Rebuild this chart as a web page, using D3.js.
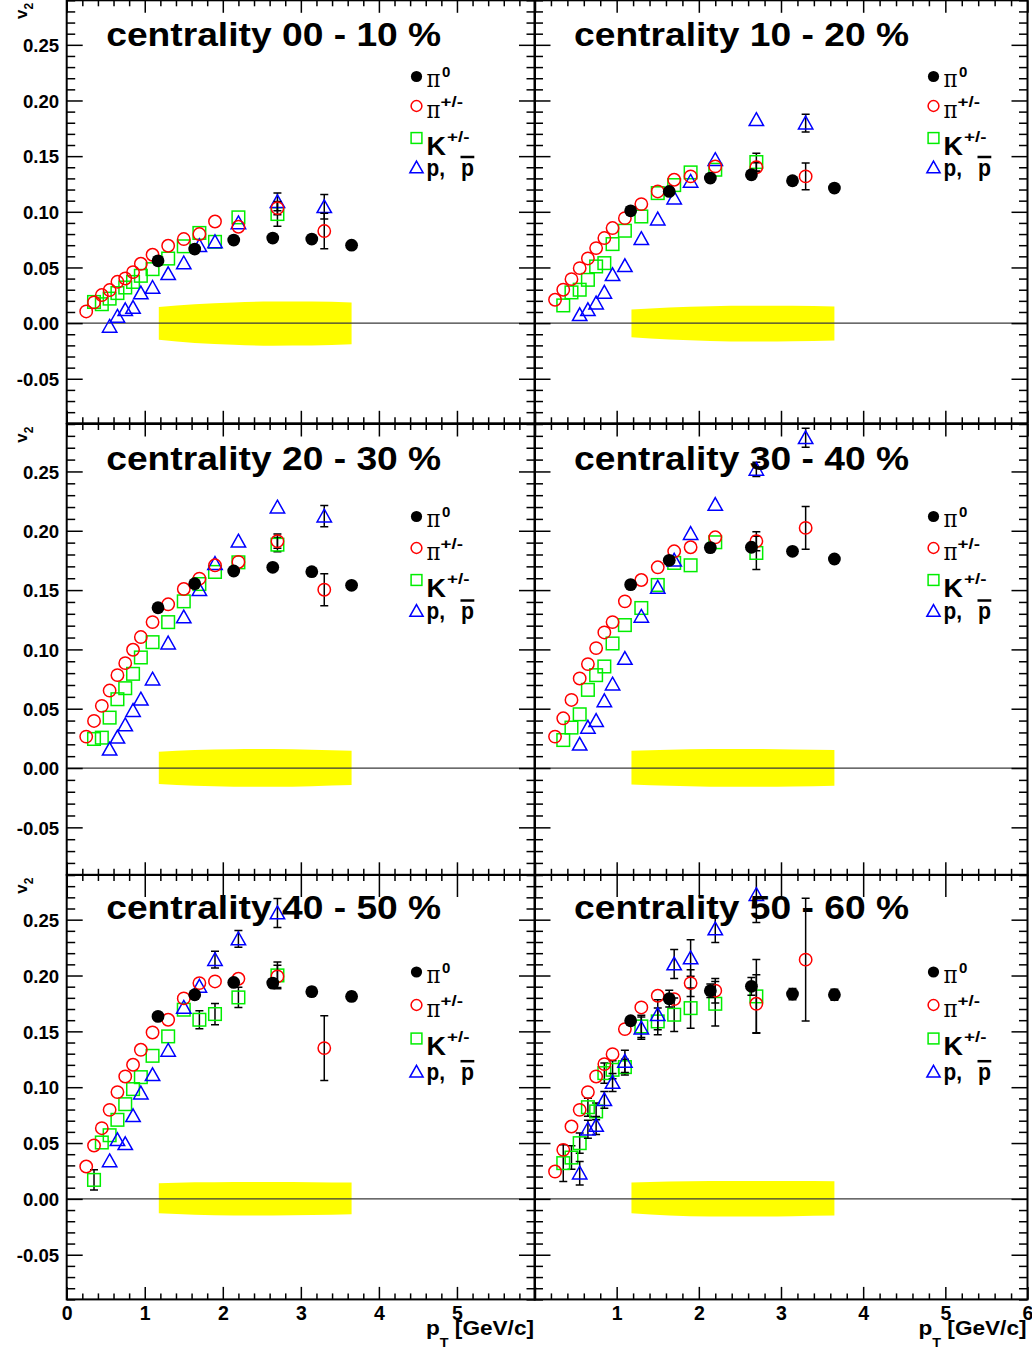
<!DOCTYPE html>
<html>
<head>
<meta charset="utf-8">
<script src="https://cdn.jsdelivr.net/npm/d3@7"></script>
<style>
html,body{margin:0;padding:0;background:#fff;}
svg{display:block;}
text{font-family:"Liberation Sans",Arial,Helvetica,sans-serif;font-weight:bold;fill:#000;}
</style>
</head>
<body>
<svg id="chart" width="1032" height="1351"></svg>
<script>
// ---------------- data ----------------
const centralities = ["00 - 10", "10 - 20", "20 - 30", "30 - 40", "40 - 50", "50 - 60"];
const ptPi0  = [1.17, 1.64, 2.14, 2.64, 3.14, 3.65];
const ptPipm = [0.25, 0.35, 0.45, 0.55, 0.65, 0.75, 0.85, 0.95, 1.1, 1.3, 1.5, 1.7, 1.9, 2.2, 2.7, 3.3];
const ptK    = [0.35, 0.45, 0.55, 0.65, 0.75, 0.85, 0.95, 1.1, 1.3, 1.5, 1.7, 1.9, 2.2, 2.7];
const ptP    = [0.55, 0.65, 0.75, 0.85, 0.95, 1.1, 1.3, 1.5, 1.7, 1.9, 2.2, 2.7, 3.3];
const ptBand = [1.18, 1.64, 2.14, 2.64, 3.14, 3.65];
const yMajorTicks = [-0.05, 0.00, 0.05, 0.10, 0.15, 0.20, 0.25];
const xTicksLeft  = [0, 1, 2, 3, 4, 5];
const xTicksRight = [1, 2, 3, 4, 5, 6];

// 00-10 %
const v2Pi0_0010  = [0.056, 0.0665, 0.0746, 0.0764, 0.0755, 0.070];
const errPi0_0010 = [0.002, 0.002, 0.002, 0.003, 0.003, 0.003];
const v2Pipm_0010  = [0.0105, 0.0186, 0.0252, 0.0297, 0.0371, 0.0401, 0.0458, 0.0533, 0.0614, 0.0695, 0.0755, 0.080, 0.0913, 0.0866, 0.1033, 0.0827];
const errPipm_0010 = [0, 0, 0, 0, 0, 0, 0, 0, 0, 0, 0, 0, 0, 0, 0.006, 0.016];
const v2K_0010  = [0.019, 0.017, 0.022, 0.027, 0.032, 0.037, 0.0425, 0.0485, 0.058, 0.069, 0.081, 0.073, 0.095, 0.098];
const errK_0010 = [0, 0, 0, 0, 0, 0, 0, 0, 0, 0, 0, 0, 0, 0.011];
const v2P_0010  = [-0.003, 0.006, 0.012, 0.014, 0.027, 0.032, 0.0443, 0.054, 0.0695, 0.073, 0.090, 0.109, 0.1045];
const errP_0010 = [0, 0, 0, 0, 0, 0, 0, 0, 0, 0, 0, 0.008, 0.011];
const bandHi_0010 = [0.0145, 0.0170, 0.0186, 0.0194, 0.0195, 0.0185];
const bandLo_0010 = [-0.0150, -0.0178, -0.0195, -0.0203, -0.0202, -0.0190];

// 10-20 %
const v2Pi0_1020  = [0.1009, 0.1183, 0.1303, 0.1333, 0.1279, 0.1213];
const errPi0_1020 = [0.002, 0.002, 0.002, 0.003, 0.003, 0.003];
const v2Pipm_1020  = [0.021, 0.030, 0.0395, 0.0494, 0.0581, 0.0674, 0.0764, 0.0854, 0.0943, 0.1069, 0.1183, 0.1288, 0.1318, 0.1408, 0.140, 0.1318];
const errPipm_1020 = [0, 0, 0, 0, 0, 0, 0, 0, 0, 0, 0, 0, 0, 0, 0.004, 0.012];
const v2K_1020  = [0.0159, 0.0276, 0.030, 0.0389, 0.0509, 0.0539, 0.071, 0.083, 0.0958, 0.1168, 0.124, 0.1354, 0.1378, 0.1447];
const errK_1020 = [0, 0, 0, 0, 0, 0, 0, 0, 0, 0, 0, 0, 0, 0.008];
const v2P_1020  = [0.0075, 0.012, 0.018, 0.0276, 0.0434, 0.0515, 0.0758, 0.0934, 0.1123, 0.1273, 0.1468, 0.1827, 0.1797];
const errP_1020 = [0, 0, 0, 0, 0, 0, 0, 0, 0, 0, 0, 0, 0.008];
const bandHi_1020 = [0.0122, 0.0140, 0.0152, 0.0156, 0.0155, 0.0150];
const bandLo_1020 = [-0.0126, -0.0148, -0.0160, -0.0165, -0.0163, -0.0156];

// 20-30 %
const v2Pi0_2030  = [0.1351, 0.1554, 0.1661, 0.1692, 0.1655, 0.154];
const errPi0_2030 = [0.002, 0.002, 0.002, 0.003, 0.003, 0.003];
const v2Pipm_2030  = [0.0265, 0.0397, 0.0524, 0.0653, 0.0783, 0.0884, 0.0997, 0.1104, 0.123, 0.138, 0.1509, 0.1596, 0.1709, 0.1737, 0.1912, 0.1503];
const errPipm_2030 = [0, 0, 0, 0, 0, 0, 0, 0, 0, 0, 0, 0, 0, 0, 0.006, 0.0135];
const v2K_2030  = [0.0245, 0.0256, 0.0425, 0.058, 0.0673, 0.0794, 0.0932, 0.1061, 0.123, 0.1405, 0.1551, 0.1653, 0.1734, 0.1883];
const errK_2030 = [0, 0, 0, 0, 0, 0, 0, 0, 0, 0, 0, 0, 0, 0.006];
const v2P_2030  = [0.0158, 0.0259, 0.0363, 0.0484, 0.058, 0.0749, 0.1053, 0.1273, 0.1503, 0.1723, 0.1912, 0.2199, 0.2123];
const errP_2030 = [0, 0, 0, 0, 0, 0, 0, 0, 0, 0, 0, 0, 0.009];
const bandHi_2030 = [0.0138, 0.0152, 0.0159, 0.0160, 0.0155, 0.0146];
const bandLo_2030 = [-0.0135, -0.0150, -0.0157, -0.0158, -0.0153, -0.0144];

// 30-40 %
const v2Pi0_3040  = [0.1546, 0.1751, 0.1858, 0.1861, 0.1827, 0.1762];
const errPi0_3040 = [0.002, 0.002, 0.003, 0.003, 0.003, 0.003];
const v2Pipm_3040  = [0.0265, 0.0419, 0.0574, 0.0755, 0.0876, 0.1011, 0.1143, 0.123, 0.1405, 0.1585, 0.1692, 0.1827, 0.1861, 0.1945, 0.1912, 0.2024];
const errPipm_3040 = [0, 0, 0, 0, 0, 0, 0, 0, 0, 0, 0, 0, 0, 0, 0.008, 0.018];
const v2K_3040  = [0.0236, 0.0341, 0.0453, 0.0659, 0.0783, 0.0856, 0.105, 0.1205, 0.1349, 0.1543, 0.1729, 0.1709, 0.1903, 0.1813];
const errK_3040 = [0, 0, 0, 0, 0, 0, 0, 0, 0, 0, 0, 0, 0, 0.014];
const v2P_3040  = [0.020, 0.0343, 0.040, 0.0566, 0.0707, 0.0923, 0.1278, 0.1523, 0.1751, 0.1976, 0.2221, 0.2517, 0.2784];
const errP_3040 = [0, 0, 0, 0, 0, 0, 0, 0, 0, 0, 0, 0.006, 0.008];
const bandHi_3040 = [0.0146, 0.0155, 0.0160, 0.0160, 0.0157, 0.0152];
const bandLo_3040 = [-0.0138, -0.0150, -0.0157, -0.0158, -0.0155, -0.0149];

// 40-50 %
const v2Pi0_4050  = [0.1634, 0.1828, 0.1938, 0.1932, 0.1855, 0.1813];
const errPi0_4050 = [0.002, 0.003, 0.003, 0.004, 0.004, 0.004];
const v2Pipm_4050  = [0.029, 0.0478, 0.0633, 0.0797, 0.0956, 0.1096, 0.1201, 0.1335, 0.149, 0.1604, 0.1795, 0.1932, 0.1947, 0.1971, 0.1992, 0.135];
const errPipm_4050 = [0, 0, 0, 0, 0, 0, 0, 0, 0, 0, 0, 0, 0, 0, 0.010, 0.029];
const v2K_4050  = [0.017, 0.0505, 0.057, 0.0708, 0.0848, 0.0983, 0.109, 0.1281, 0.1455, 0.1694, 0.1604, 0.1655, 0.1804, 0.2001];
const errK_4050 = [0.009, 0, 0, 0, 0, 0, 0, 0, 0, 0, 0.008, 0.0095, 0.009, 0.012];
const v2P_4050  = [0.034, 0.0529, 0.0493, 0.0744, 0.0947, 0.1111, 0.1329, 0.1714, 0.1903, 0.2142, 0.2327, 0.256];
const errP_4050 = [0, 0, 0, 0, 0, 0, 0, 0, 0, 0.0075, 0.0075, 0.013];
const bandHi_4050 = [0.0140, 0.0148, 0.0152, 0.0152, 0.0150, 0.0146];
const bandLo_4050 = [-0.0128, -0.0142, -0.0149, -0.0149, -0.0144, -0.0137];

// 50-60 %
const v2Pi0_5060  = [0.1595, 0.1792, 0.1864, 0.1903, 0.1834, 0.1828];
const errPi0_5060 = [0.003, 0.0075, 0.006, 0.008, 0.005, 0.005];
const v2Pipm_5060  = [0.0245, 0.0439, 0.0648, 0.0797, 0.0956, 0.1096, 0.1207, 0.1296, 0.152, 0.1714, 0.1819, 0.1789, 0.1932, 0.1864, 0.1747, 0.2142];
const errPipm_5060 = [0, 0, 0, 0, 0, 0, 0, 0, 0, 0, 0, 0, 0.012, 0.011, 0.026, 0.055];
const v2K_5060  = [0.032, 0.037, 0.0499, 0.0821, 0.0783, 0.1126, 0.1156, 0.118, 0.1544, 0.1589, 0.1649, 0.1708, 0.1747, 0.1813];
const errK_5060 = [0.0164, 0.0105, 0.009, 0.008, 0.0075, 0.009, 0.008, 0.007, 0.010, 0.012, 0.015, 0.018, 0.020, 0.033];
const v2P_5060  = [0.023, 0.0624, 0.0657, 0.0887, 0.1042, 0.1231, 0.1529, 0.1649, 0.2103, 0.2157, 0.2416, 0.2724];
const errP_5060 = [0.0105, 0.008, 0.008, 0.0075, 0.008, 0.010, 0.010, 0.0134, 0.013, 0.0164, 0.012, 0.025];
const bandHi_5060 = [0.0146, 0.0155, 0.0160, 0.0161, 0.0160, 0.0158];
const bandLo_5060 = [-0.0128, -0.0148, -0.0157, -0.0158, -0.0155, -0.0149];

// table built from the arrays above
const panels = [
  {pi0: [v2Pi0_0010, errPi0_0010], pipm: [v2Pipm_0010, errPipm_0010], k: [v2K_0010, errK_0010], p: [v2P_0010, errP_0010], band: [bandHi_0010, bandLo_0010]},
  {pi0: [v2Pi0_1020, errPi0_1020], pipm: [v2Pipm_1020, errPipm_1020], k: [v2K_1020, errK_1020], p: [v2P_1020, errP_1020], band: [bandHi_1020, bandLo_1020]},
  {pi0: [v2Pi0_2030, errPi0_2030], pipm: [v2Pipm_2030, errPipm_2030], k: [v2K_2030, errK_2030], p: [v2P_2030, errP_2030], band: [bandHi_2030, bandLo_2030]},
  {pi0: [v2Pi0_3040, errPi0_3040], pipm: [v2Pipm_3040, errPipm_3040], k: [v2K_3040, errK_3040], p: [v2P_3040, errP_3040], band: [bandHi_3040, bandLo_3040]},
  {pi0: [v2Pi0_4050, errPi0_4050], pipm: [v2Pipm_4050, errPipm_4050], k: [v2K_4050, errK_4050], p: [v2P_4050, errP_4050], band: [bandHi_4050, bandLo_4050]},
  {pi0: [v2Pi0_5060, errPi0_5060], pipm: [v2Pipm_5060, errPipm_5060], k: [v2K_5060, errK_5060], p: [v2P_5060, errP_5060], band: [bandHi_5060, bandLo_5060]}
];

// ---------------- layout ----------------
const colRange = [[66.7, 535], [534.5, 1027.5]];
const rowRange = [[423.3, 0.3], [874.8, 424], [1299.4, 875]];
const titleBase = [45.7, 470, 919.3];
const legendRows = [[76.5, 106, 138, 167.5], [516.5, 548, 580, 611], [972, 1005, 1038.5, 1071.7]];
const legendMarkerX = [416.5, 933.5];
const RED = "#ff0000", GREEN = "#00ee00", BLUE = "#0000ff";
const SERIF = '"DejaVu Serif","Liberation Serif",serif';

const svg = d3.select("#chart");
svg.append("rect").attr("width", 1032).attr("height", 1351).attr("fill", "#fff");

function trianglePath(cx, cy, s) {
  return `M${cx},${cy - 7 * s}L${cx + 7.2 * s},${cy + 5.8 * s}L${cx - 7.2 * s},${cy + 5.8 * s}Z`;
}

function drawSeries(g, x, y, pts, vals, errs, kind) {
  const idx = d3.range(vals.length);
  g.append("g").selectAll("path").data(idx.filter(j => errs[j] > 0)).join("path")
    .attr("d", j => {
      const xx = x(pts[j]), ya = y(vals[j] - errs[j]), yb = y(vals[j] + errs[j]);
      return `M${xx - 4},${ya}H${xx + 4}M${xx},${ya}V${yb}M${xx - 4},${yb}H${xx + 4}`;
    })
    .attr("stroke", "#000").attr("stroke-width", 1.5).attr("fill", "none");
  const mg = g.append("g");
  if (kind === "pi0") {
    mg.selectAll("circle").data(idx).join("circle")
      .attr("cx", j => x(pts[j])).attr("cy", j => y(vals[j])).attr("r", 6.4).attr("fill", "#000");
  } else if (kind === "pipm") {
    mg.selectAll("circle").data(idx).join("circle")
      .attr("cx", j => x(pts[j])).attr("cy", j => y(vals[j])).attr("r", 6.2)
      .attr("fill", "none").attr("stroke", RED).attr("stroke-width", 1.5);
  } else if (kind === "k") {
    mg.selectAll("rect").data(idx).join("rect")
      .attr("x", j => x(pts[j]) - 6.3).attr("y", j => y(vals[j]) - 6.3).attr("width", 12.6).attr("height", 12.6)
      .attr("fill", "none").attr("stroke", GREEN).attr("stroke-width", 1.5);
  } else {
    mg.selectAll("path").data(idx).join("path")
      .attr("d", j => trianglePath(x(pts[j]), y(vals[j]), 1))
      .attr("fill", "none").attr("stroke", BLUE).attr("stroke-width", 1.5);
  }
}

function styleAxis(sel, fontSize) {
  sel.select(".domain").remove();
  sel.attr("font-family", null).attr("font-size", fontSize);
  sel.selectAll("line").attr("stroke", "#000").attr("stroke-width", 1.5);
  sel.selectAll("text").attr("fill", "#000");
}

panels.forEach((pd, i) => {
  const col = i % 2, row = Math.floor(i / 2);
  const x = d3.scaleLinear().domain([0, 6]).range(colRange[col]);
  const y = d3.scaleLinear().domain([-0.09, 0.29]).range(rowRange[row]);
  const g = svg.append("g");
  const clipId = "clip" + i;
  g.append("clipPath").attr("id", clipId).append("rect")
    .attr("x", x(0)).attr("y", y(0.29)).attr("width", x(6) - x(0)).attr("height", y(-0.09) - y(0.29));
  const inner = g.append("g").attr("clip-path", `url(#${clipId})`);

  // systematic band
  const area = d3.area()
    .x((d, j) => x(ptBand[j]))
    .y0((d, j) => y(pd.band[1][j]))
    .y1((d, j) => y(pd.band[0][j]))
    .curve(d3.curveMonotoneX);
  inner.append("path").datum(ptBand).attr("d", area).attr("fill", "#ffff00");

  // zero line
  inner.append("line").attr("x1", x(0)).attr("x2", x(6)).attr("y1", y(0)).attr("y2", y(0))
    .attr("stroke", "#3a3a3a").attr("stroke-width", 1.2);

  // data
  drawSeries(inner, x, y, ptK, pd.k[0], pd.k[1], "k");
  drawSeries(inner, x, y, ptP, pd.p[0], pd.p[1], "p");
  drawSeries(inner, x, y, ptPipm, pd.pipm[0], pd.pipm[1], "pipm");
  drawSeries(inner, x, y, ptPi0, pd.pi0[0], pd.pi0[1], "pi0");

  // axes
  const yMinor = d3.range(-9, 30).map(v => v / 100).filter(v => yMajorTicks.every(m => Math.abs(m - v) > 1e-6));
  const xMinor = d3.range(0, 31).map(v => v / 5).filter(v => Math.abs(v - Math.round(v)) > 1e-6);
  const xMajor = d3.range(0, 7);

  g.append("g").attr("transform", `translate(${x(0)},0)`)
    .call(d3.axisLeft(y).tickValues(yMajorTicks).tickSize(-16).tickSizeOuter(0).tickPadding(7.5)
      .tickFormat(col === 0 ? (d => d.toFixed(2)) : ""))
    .call(s => styleAxis(s, 18.6))
    .call(s => s.selectAll("text").attr("dy", "0.36em"));
  g.append("g").attr("transform", `translate(${x(0)},0)`)
    .call(d3.axisLeft(y).tickValues(yMinor).tickSize(-8.5).tickSizeOuter(0).tickFormat(""))
    .call(s => styleAxis(s, 10));
  g.append("g").attr("transform", `translate(${x(6)},0)`)
    .call(d3.axisRight(y).tickValues(yMajorTicks).tickSize(-16).tickSizeOuter(0).tickFormat(""))
    .call(s => styleAxis(s, 10));
  g.append("g").attr("transform", `translate(${x(6)},0)`)
    .call(d3.axisRight(y).tickValues(yMinor).tickSize(-8.5).tickSizeOuter(0).tickFormat(""))
    .call(s => styleAxis(s, 10));

  const yBot = y(-0.09), yTop = y(0.29);
  const botLabels = row === 2 ? (col === 0 ? xTicksLeft : xTicksRight) : [];
  g.append("g").attr("transform", `translate(0,${yBot})`)
    .call(d3.axisBottom(x).tickValues(xMajor).tickSize(-12.5).tickSizeOuter(0).tickPadding(7)
      .tickFormat(d => botLabels.includes(d) ? String(d) : ""))
    .call(s => styleAxis(s, 19.5));
  g.append("g").attr("transform", `translate(0,${yBot})`)
    .call(d3.axisBottom(x).tickValues(xMinor).tickSize(-6).tickSizeOuter(0).tickFormat(""))
    .call(s => styleAxis(s, 10));
  g.append("g").attr("transform", `translate(0,${yTop})`)
    .call(d3.axisTop(x).tickValues(xMajor).tickSize(row === 2 ? -22 : -12.5).tickSizeOuter(0).tickFormat(""))
    .call(s => styleAxis(s, 10));
  g.append("g").attr("transform", `translate(0,${yTop})`)
    .call(d3.axisTop(x).tickValues(xMinor).tickSize(-6).tickSizeOuter(0).tickFormat(""))
    .call(s => styleAxis(s, 10));

  // frame
  g.append("rect").attr("x", x(0)).attr("y", yTop).attr("width", x(6) - x(0)).attr("height", yBot - yTop)
    .attr("fill", "none").attr("stroke", "#000").attr("stroke-width", 2);

  // x-axis title on bottom row
  if (row === 2) {
    const t = g.append("text").attr("x", x(6) - 1).attr("y", 1335).attr("text-anchor", "end")
      .attr("font-size", 20.5).attr("textLength", 108).attr("lengthAdjust", "spacingAndGlyphs");
    t.append("tspan").text("p");
    t.append("tspan").attr("dy", 12).attr("font-size", 13).text("T");
    t.append("tspan").attr("dy", -12).text(" [GeV/c]");
  }
  // y-axis title on left column
  if (col === 0) {
    const t = g.append("text").attr("transform", `translate(27,${yTop + 2.5}) rotate(-90)`)
      .attr("text-anchor", "end").attr("font-size", 17);
    t.append("tspan").text("v");
    t.append("tspan").attr("dy", 6).attr("font-size", 12).text("2");
  }

  // title
  g.append("text").attr("x", x(0) + 39.5).attr("y", titleBase[row])
    .attr("font-size", 33).attr("textLength", 335).attr("lengthAdjust", "spacingAndGlyphs")
    .text(`centrality ${centralities[i]} %`);

  // legend
  const lx = legendMarkerX[col], ly = legendRows[row], tx = lx + 11;
  const lg = g.append("g");
  lg.append("circle").attr("cx", lx).attr("cy", ly[0]).attr("r", 5.6).attr("fill", "#000");
  lg.append("circle").attr("cx", lx).attr("cy", ly[1]).attr("r", 5.4).attr("fill", "none").attr("stroke", RED).attr("stroke-width", 1.5);
  lg.append("rect").attr("x", lx - 5.4).attr("y", ly[2] - 5.4).attr("width", 10.8).attr("height", 10.8).attr("fill", "none").attr("stroke", GREEN).attr("stroke-width", 1.5);
  lg.append("path").attr("d", trianglePath(lx, ly[3], 0.92)).attr("fill", "none").attr("stroke", BLUE).attr("stroke-width", 1.5);

  const pi = (yy) => lg.append("text").attr("x", tx - 1).attr("y", yy).attr("font-size", 24)
    .attr("textLength", 14).attr("lengthAdjust", "spacingAndGlyphs")
    .style("font-family", SERIF).style("font-weight", "normal").text("\u03c0");
  pi(ly[0] + 10.5);
  lg.append("text").attr("x", tx + 14.5).attr("y", ly[0] + 0.5).attr("font-size", 15).text("0");
  pi(ly[1] + 12);
  lg.append("text").attr("x", tx + 13).attr("y", ly[1] + 0.5).attr("font-size", 15)
    .attr("textLength", 22.5).attr("lengthAdjust", "spacingAndGlyphs").text("+/-");
  lg.append("text").attr("x", tx - 1).attr("y", ly[2] + 16.5).attr("font-size", 26)
    .attr("textLength", 19.5).attr("lengthAdjust", "spacingAndGlyphs").text("K");
  lg.append("text").attr("x", tx + 19.5).attr("y", ly[2] + 3.8).attr("font-size", 15)
    .attr("textLength", 22.5).attr("lengthAdjust", "spacingAndGlyphs").text("+/-");
  lg.append("text").attr("x", tx - 1).attr("y", ly[3] + 8).attr("font-size", 23)
    .attr("textLength", 18.5).attr("lengthAdjust", "spacingAndGlyphs").text("p,");
  lg.append("text").attr("x", tx + 33.5).attr("y", ly[3] + 8).attr("font-size", 23)
    .attr("textLength", 13).attr("lengthAdjust", "spacingAndGlyphs").text("p");
  lg.append("line").attr("x1", tx + 33).attr("x2", tx + 46.8).attr("y1", ly[3] - 10.5).attr("y2", ly[3] - 10.5)
    .attr("stroke", "#000").attr("stroke-width", 2.5);
});
</script>
</body>
</html>
